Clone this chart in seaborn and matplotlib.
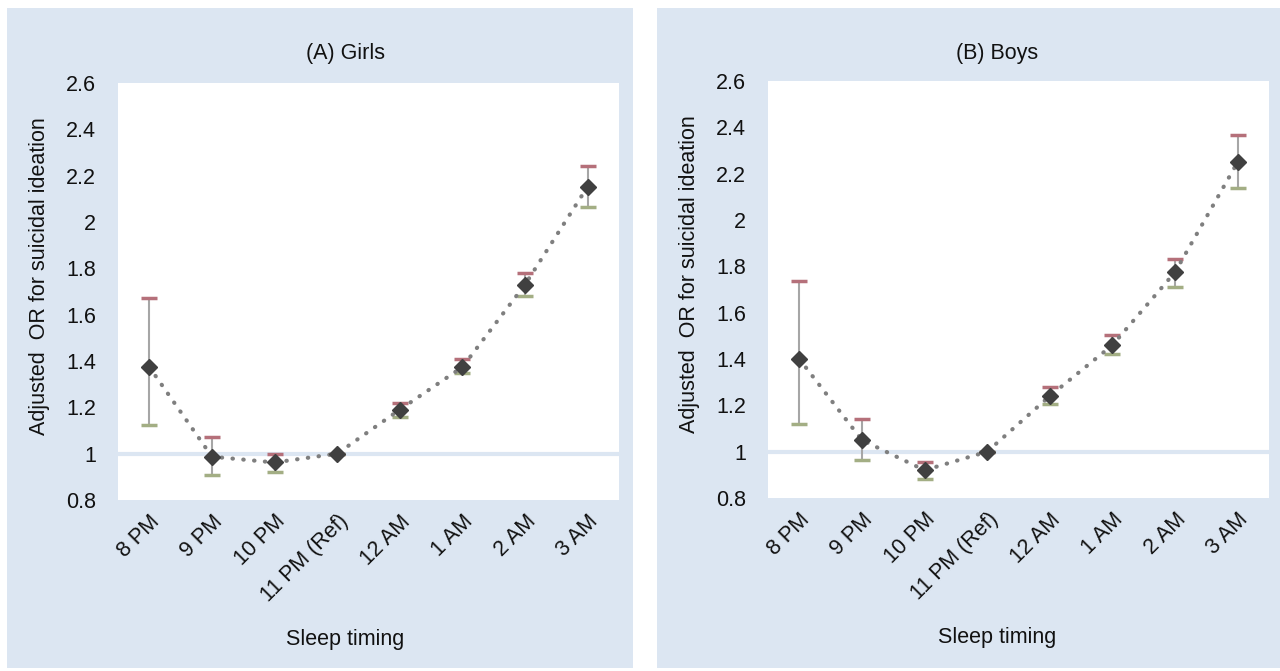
import matplotlib
matplotlib.use("Agg")
import matplotlib.pyplot as plt
import seaborn as sns
import numpy as np
import pandas as pd
from matplotlib.patches import Rectangle

categories = ["8 PM", "9 PM", "10 PM", "11 PM (Ref)", "12 AM", "1 AM", "2 AM", "3 AM"]
girls_or = [1.374, 0.987, 0.962, 1.0, 1.19, 1.374, 1.73, 2.153]
girls_hi = [1.673, 1.07, 1.0, 1.0, 1.217, 1.41, 1.78, 2.24]
girls_lo = [1.122, 0.91, 0.92, 1.0, 1.16, 1.35, 1.68, 2.063]
boys_or = [1.40, 1.05, 0.92, 1.0, 1.24, 1.46, 1.775, 2.25]
boys_hi = [1.735, 1.14, 0.955, 1.0, 1.28, 1.505, 1.83, 2.365]
boys_lo = [1.12, 0.965, 0.88, 1.0, 1.205, 1.42, 1.71, 2.14]
titles = ["(A) Girls", "(B) Boys"]
yticks = [0.8, 1.0, 1.2, 1.4, 1.6, 1.8, 2.0, 2.2, 2.4, 2.6]
ytick_labels = ["0.8", "1", "1.2", "1.4", "1.6", "1.8", "2", "2.2", "2.4", "2.6"]

sns.set_theme(style="white")
plt.rcParams['font.family'] = ['Liberation Sans', 'DejaVu Sans']
plt.rcParams['text.color'] = '#111111'
plt.rcParams['xtick.color'] = '#111111'
plt.rcParams['ytick.color'] = '#111111'

W, H = 1280, 671
fig = plt.figure(figsize=(W / 100, H / 100), dpi=100)
fig.patch.set_facecolor("white")

panel_color = "#DCE6F2"
panels = [(7, 8, 633, 668), (657, 8, 1280, 668)]
plots = [(118, 83, 619, 500), (768, 81, 1269, 498)]
title_cx = [345, 997]

def fx(px):
    return px / W

def fy(py):
    return 1 - py / H

for (x0, y0, x1, y1) in panels:
    rect = Rectangle((fx(x0), fy(y1)), fx(x1 - x0), (y1 - y0) / H,
                     transform=fig.transFigure, facecolor=panel_color,
                     edgecolor="none", zorder=-5)
    fig.add_artist(rect)

data_sets = [(girls_or, girls_lo, girls_hi), (boys_or, boys_lo, boys_hi)]
fs = 15.5

for i, ((x0, y0, x1, y1), (orv, lo, hi), title) in enumerate(zip(plots, data_sets, titles)):
    ax = fig.add_axes([fx(x0), fy(y1), fx(x1 - x0), (y1 - y0) / H])
    ax.set_zorder(2)
    ax.set_facecolor("white")
    df = pd.DataFrame({"x": np.arange(len(categories)), "OR": orv, "lo": lo, "hi": hi})
    ax.axhline(1.0, color=panel_color, lw=3, zorder=1)
    ax.vlines(df["x"], df["lo"], df["hi"], color="#A6A6A6", lw=1.5, zorder=2)
    ax.plot(df["x"], df["hi"], ls="none", marker="_", ms=12, mew=2.5, color="#B5707A", zorder=3)
    ax.plot(df["x"], df["lo"], ls="none", marker="_", ms=12, mew=2.5, color="#A3AE84", zorder=3)
    sns.lineplot(data=df, x="x", y="OR", ax=ax, color="#7F7F7F", lw=3,
                 linestyle=(0, (0.1, 2.5)), dash_capstyle="round", zorder=4)
    ax.plot(df["x"], df["OR"], ls="none", marker="D", ms=8, color="#404040",
            mec="#404040", zorder=5)
    ax.set_xlim(-0.5, len(categories) - 0.5)
    ax.set_ylim(0.8, 2.6)
    ax.set_yticks(yticks)
    ax.set_yticklabels(ytick_labels, fontsize=fs)
    ax.set_xticks(np.arange(len(categories)))
    ax.set_xticklabels(categories, fontsize=fs, rotation=45, ha="right",
                       rotation_mode="anchor")
    ax.tick_params(axis="y", length=0, pad=16)
    ax.tick_params(axis="x", length=0, pad=8)
    for s in ax.spines.values():
        s.set_visible(False)
    ax.set_xlabel("")
    ax.set_ylabel("")
    cx = title_cx[i]
    fig.text(fx(cx), fy(53), title, ha="center", va="center", fontsize=fs)
    fig.text(fx(cx), fy(640 if i == 0 else 637), "Sleep timing", ha="center", va="center", fontsize=fs)
    fig.text(fx(x0 - 78), fy((y0 + y1) / 2 - 15), "Adjusted  OR for suicidal ideation",
             ha="center", va="center", rotation=90, fontsize=fs)

fig.savefig("out.png", dpi=100)
